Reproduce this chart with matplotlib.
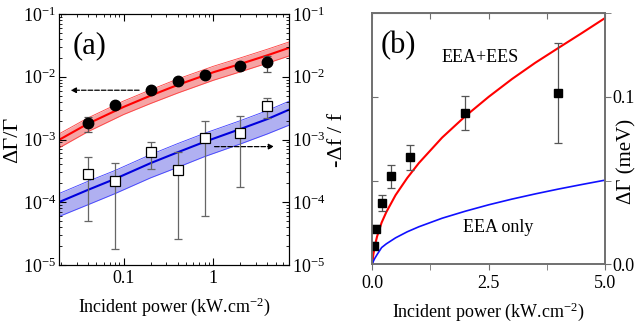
import matplotlib
matplotlib.use("Agg")
import matplotlib.pyplot as plt
from matplotlib.ticker import LogLocator, NullFormatter

plt.rcParams['font.family'] = ['Liberation Serif', 'DejaVu Serif']
plt.rcParams['mathtext.fontset'] = 'custom'
plt.rcParams['mathtext.rm'] = 'Liberation Serif'
plt.rcParams['mathtext.it'] = 'Liberation Serif:italic'

# ---- panel (a) data ----
power = [0.04, 0.08, 0.2, 0.4, 0.8, 2.0, 4.0]

gamma_rel = [1.81e-3, 3.55e-3, 6.08e-3, 8.65e-3, 1.05e-2, 1.50e-2, 1.70e-2]
gamma_lo = [1.30e-3, 3.2e-3, 5.6e-3, 8.0e-3, 9.8e-3, 1.40e-2, 1.19e-2]
gamma_hi = [2.30e-3, 3.9e-3, 6.6e-3, 9.3e-3, 1.12e-2, 1.60e-2, 2.14e-2]

freq_rel = [2.85e-4, 2.2e-4, 6.3e-4, 3.3e-4, 1.04e-3, 1.28e-3, 3.42e-3]
freq_lo = [5.1e-5, 1.78e-5, 3.4e-4, 2.6e-5, 6.1e-5, 1.73e-4, 2.17e-3]
freq_hi = [5.2e-4, 4.2e-4, 9.2e-4, 6.3e-4, 2.0e-3, 2.4e-3, 4.6e-3]

red_x = [0.019, 0.04, 0.1, 0.2, 0.4, 1.0, 2.0, 4.0, 7.0]
red_mid = [9.8e-4, 1.78e-3, 3.3e-3, 5.0e-3, 7.4e-3, 1.18e-2, 1.6e-2, 2.2e-2, 2.9e-2]
red_hi = [1.22e-3, 2.2e-3, 4.1e-3, 6.2e-3, 9.2e-3, 1.47e-2, 2.0e-2, 2.75e-2, 3.6e-2]
red_lo = [7.3e-4, 1.33e-3, 2.5e-3, 3.75e-3, 5.5e-3, 8.8e-3, 1.2e-2, 1.65e-2, 2.15e-2]

blue_x = [0.019, 0.04, 0.08, 0.2, 0.4, 0.8, 2.0, 4.0, 7.0]
blue_mid = [1.0e-4, 1.57e-4, 2.35e-4, 4.2e-4, 6.25e-4, 9.2e-4, 1.47e-3, 2.12e-3, 3.0e-3]
blue_hi = [1.37e-4, 2.15e-4, 3.2e-4, 5.75e-4, 8.6e-4, 1.26e-3, 2.0e-3, 2.9e-3, 4.1e-3]
blue_lo = [5.9e-5, 9.1e-5, 1.37e-4, 2.45e-4, 3.6e-4, 5.35e-4, 8.5e-4, 1.23e-3, 1.7e-3]

# ---- panel (b) data ----
dgamma = [0.0113, 0.0214, 0.0367, 0.0525, 0.064, 0.0905, 0.1024]
dgamma_err = [0.002, 0.002, 0.0045, 0.007, 0.0075, 0.01, 0.03]

fit_x = [0, 0.02, 0.05, 0.1, 0.2, 0.3, 0.5, 0.75, 1.0, 1.5, 2.0, 2.5, 3.0, 3.5, 4.0, 4.5, 5.0]
fit_eea_ees = [0, 0.0055, 0.0105, 0.0165, 0.025, 0.0312, 0.0414, 0.0516, 0.0605, 0.0757,
               0.0885, 0.100, 0.1106, 0.1203, 0.1292, 0.138, 0.147]
fit_eea = [0, 0.0018, 0.0035, 0.0058, 0.0101, 0.0123, 0.0159, 0.0195, 0.0225, 0.0276,
           0.0318, 0.0356, 0.039, 0.0421, 0.045, 0.0477, 0.0503]

fig = plt.figure(figsize=(6.36, 3.22), dpi=100)

# ================= panel (a) =================
ax = fig.add_axes([0.0923, 0.177, 0.3626, 0.7795])
ax.set_xscale('log')
ax.set_yscale('log')

ax.fill_between(red_x, red_lo, red_hi, color='#f49a9a', alpha=0.9, lw=0)
ax.plot(red_x, red_hi, color='#ff4040', lw=0.6)
ax.plot(red_x, red_lo, color='#ff4040', lw=0.6)
ax.plot(red_x, red_mid, color='red', lw=1.5)

ax.fill_between(blue_x, blue_lo, blue_hi, color='#a8a8f0', alpha=0.9, lw=0)
ax.plot(blue_x, blue_hi, color='#4040ff', lw=0.6)
ax.plot(blue_x, blue_lo, color='#4040ff', lw=0.6)
ax.plot(blue_x, blue_mid, color='#0000dd', lw=1.5)

g_err = [[g - lo for g, lo in zip(gamma_rel, gamma_lo)], [hi - g for g, hi in zip(gamma_rel, gamma_hi)]]
f_err = [[f - lo for f, lo in zip(freq_rel, freq_lo)], [hi - f for f, hi in zip(freq_rel, freq_hi)]]
ax.errorbar(power, gamma_rel, yerr=g_err, fmt='o', color='black', ms=7.5,
            ecolor='#555555', elinewidth=0.9, capsize=3, capthick=0.9, zorder=5)
ax.errorbar(power, freq_rel, yerr=f_err, fmt='s', mfc='white', mec='black', mew=0.9, ms=7,
            ecolor='#666666', elinewidth=0.9, capsize=3, capthick=0.9, zorder=5)

ax.set_xlim(0.019, 7)
ax.set_ylim(1e-5, 1e-1)
ax.xaxis.set_minor_locator(LogLocator(base=10, subs=range(2, 10), numticks=20))
ax.xaxis.set_minor_formatter(NullFormatter())
ax.yaxis.set_minor_locator(LogLocator(base=10, subs=range(2, 10), numticks=20))
ax.yaxis.set_minor_formatter(NullFormatter())
ax.set_xticks([0.1, 1])
ax.set_xticklabels(['0.1', '1'])
ax.tick_params(which='both', direction='in', top=True, labelsize=13)
ax.tick_params(which='major', length=5)
ax.tick_params(which='minor', length=2.5)
ax.tick_params(axis='y', pad=2)

# dashed arrows pointing to the relevant axis
ax.annotate('', xy=(0.024, 6.1e-3), xytext=(0.16, 6.1e-3),
            arrowprops=dict(arrowstyle='-|>', ls='--', color='black', lw=0.9, mutation_scale=8))
ax.annotate('', xy=(5.1, 7.7e-4), xytext=(0.96, 7.7e-4),
            arrowprops=dict(arrowstyle='-|>', ls='--', color='black', lw=0.9, mutation_scale=8))

ax.text(0.06, 0.93, '(a)', transform=ax.transAxes, fontsize=22, va='top')
ax.set_ylabel('ΔΓ/Γ', fontsize=16, labelpad=0)
ax.set_xlabel('Incident power (kW.cm$^{-2}$)', fontsize=13, labelpad=6)

ax2 = ax.twinx()
ax2.set_yscale('log')
ax2.set_ylim(1e-5, 1e-1)
ax2.yaxis.set_minor_locator(LogLocator(base=10, subs=range(2, 10), numticks=20))
ax2.yaxis.set_minor_formatter(NullFormatter())
ax2.tick_params(which='both', direction='in', labelsize=13, pad=2)
ax2.tick_params(which='major', length=5)
ax2.tick_params(which='minor', length=2.5)
ax2.set_ylabel('-Δf / f', fontsize=16, labelpad=2)

# ================= panel (b) =================
bx = fig.add_axes([0.5854, 0.1786, 0.3659, 0.781])
gray = '#707070'
bx.plot(fit_x, fit_eea_ees, color='red', lw=1.5)
bx.plot(fit_x, fit_eea, color='#1010ff', lw=1.2)
bx.errorbar(power, dgamma, yerr=dgamma_err, fmt='s', color='black', ms=6,
            ecolor='#555555', elinewidth=0.9, capsize=3, capthick=0.9, zorder=5)
bx.set_xlim(0, 5)
bx.set_ylim(0, 0.15)
bx.set_xticks([0, 2.5, 5.0])
bx.set_xticklabels(['0.0', '2.5', '5.0'])
bx.set_xticks([1.25, 3.75], minor=True)
bx.set_yticks([0.05, 0.1])
bx.tick_params(axis='y', direction='in', labelleft=False, length=4, color=gray)
bx.tick_params(axis='x', which='both', direction='out', length=4, color=gray, labelsize=13)
for s in bx.spines.values():
    s.set_color(gray)
    s.set_linewidth(1.2)

top = bx.secondary_xaxis('top')
top.set_xticks([0, 1.25, 2.5, 3.75, 5.0])
top.tick_params(direction='in', length=4, color=gray, labeltop=False)
top.spines['top'].set_color(gray)

bx2 = bx.twinx()
bx2.set_ylim(0, 0.15)
bx2.set_yticks([0.0, 0.1])
bx2.set_yticklabels(['0.0', '0.1'])
bx2.set_yticks([0.05, 0.15], minor=True)
bx2.tick_params(which='both', direction='out', length=4, color=gray, labelsize=13, pad=1)
for s in bx2.spines.values():
    s.set_color(gray)
    s.set_linewidth(1.2)
# right-hand label sits right against the figure edge, as in the original
fig.text(627 / 636, 0.5, 'ΔΓ (meV)', rotation=90, fontsize=15, ha='center', va='center')

bx.text(0.035, 0.93, '(b)', transform=bx.transAxes, fontsize=22, va='top')
bx.text(0.298, 0.805, 'EEA+EES', transform=bx.transAxes, fontsize=13)
bx.text(0.388, 0.13, 'EEA only', transform=bx.transAxes, fontsize=13)
bx.set_xlabel('Incident power (kW.cm$^{-2}$)', fontsize=13, labelpad=6)

fig.savefig('out.png', dpi=100)
